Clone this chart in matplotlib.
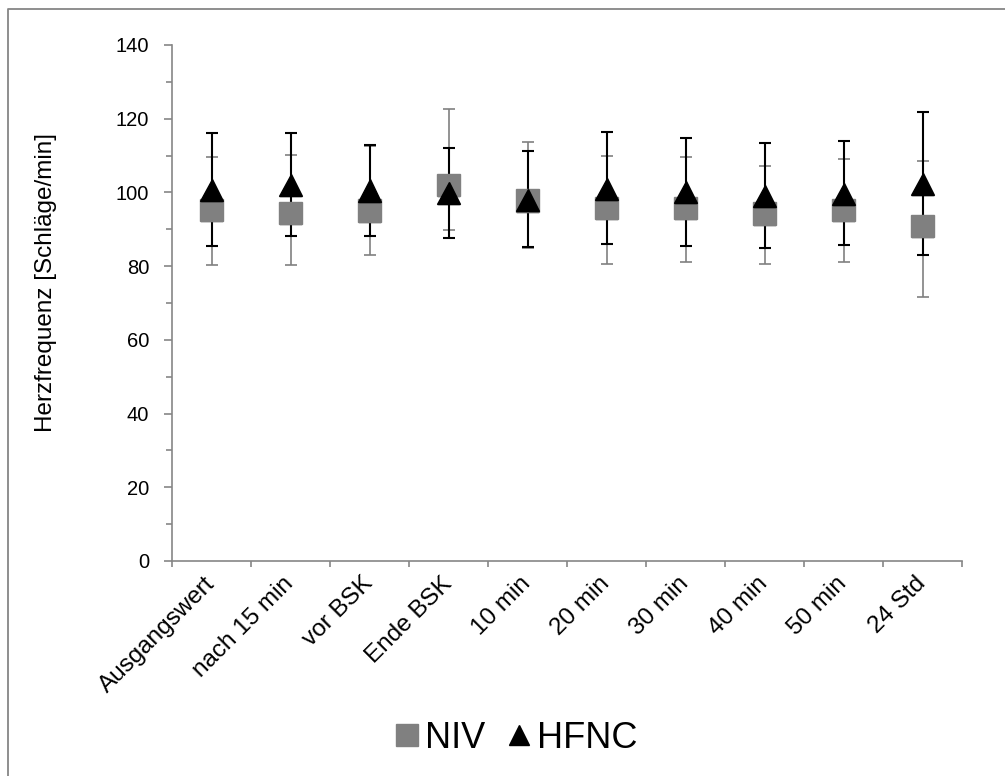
import matplotlib
matplotlib.use("Agg")
import matplotlib.pyplot as plt
import matplotlib.patheffects as pe
from matplotlib.lines import Line2D
import numpy as np

plt.rcParams['font.family'] = ['Liberation Sans', 'DejaVu Sans']

# Messzeitpunkte
zeitpunkte = ["Ausgangswert", "nach 15 min", "vor BSK", "Ende BSK", "10 min",
              "20 min", "30 min", "40 min", "50 min", "24 Std"]

# NIV: Mittelwert, untere / obere Fehlerbalken-Enden
niv_mw = [95.2, 94.4, 95.1, 102.0, 97.8, 95.7, 95.7, 94.3, 95.3, 90.9]
niv_unten = [80.2, 80.2, 83.1, 89.9, 85.0, 80.7, 81.2, 80.5, 81.1, 71.6]
niv_oben = [109.7, 110.1, 112.6, 122.7, 113.7, 109.8, 109.7, 107.1, 109.1, 108.6]

# HFNC
hfnc_mw = [100.7, 102.1, 100.5, 99.8, 97.9, 101.0, 100.1, 99.0, 99.5, 102.3]
hfnc_unten = [85.6, 88.2, 88.3, 87.6, 85.2, 85.9, 85.6, 84.9, 85.7, 83.1]
hfnc_oben = [116.0, 116.2, 112.8, 112.0, 111.2, 116.4, 114.9, 113.5, 114.0, 121.8]

grau = '#808080'
achse = '#868686'

x = np.arange(len(zeitpunkte))

fig = plt.figure(figsize=(10.05, 7.76), dpi=100)
ax = fig.add_axes([172/1005, 1-561/776, 790/1005, 516/776])

err_niv = [np.array(niv_mw)-np.array(niv_unten), np.array(niv_oben)-np.array(niv_mw)]
err_hfnc = [np.array(hfnc_mw)-np.array(hfnc_unten), np.array(hfnc_oben)-np.array(hfnc_mw)]

ax.errorbar(x, niv_mw, yerr=err_niv, fmt='none', ecolor=grau, elinewidth=1.2,
            capsize=4.3, capthick=1.2, zorder=2)
ax.errorbar(x, hfnc_mw, yerr=err_hfnc, fmt='none', ecolor='black', elinewidth=1.5,
            capsize=4.3, capthick=1.5, zorder=3)

schatten = [pe.SimplePatchShadow(offset=(0.5, -1.5), alpha=0.15), pe.Normal()]
ax.plot(x, niv_mw, ls='none', marker='s', ms=16, color=grau, zorder=4, path_effects=schatten)
ax.plot(x, hfnc_mw, ls='none', marker='^', ms=16, color='black', zorder=5, path_effects=schatten)

ax.set_xlim(-0.5, 9.5)
ax.set_ylim(0, 140)

for s in ['top', 'right']:
    ax.spines[s].set_visible(False)
for s in ['left', 'bottom']:
    ax.spines[s].set_color(achse)
    ax.spines[s].set_linewidth(1.2)

ax.set_yticks(range(0, 141, 20))
ax.set_yticks(range(10, 140, 20), minor=True)
ax.tick_params(axis='y', which='major', direction='out', length=5.5, width=1.2,
               color=achse, labelsize=14.5, pad=11)
ax.tick_params(axis='y', which='minor', direction='out', length=4.5, width=1.2, color=achse)

ax.set_xticks(x)
ax.set_xticklabels(zeitpunkte, rotation=45, ha='right', va='center',
                   rotation_mode='anchor', fontsize=17.5)
ax.tick_params(axis='x', which='major', length=0, pad=14)
ax.set_xticks(np.arange(-0.5, 10, 1), minor=True)
ax.tick_params(axis='x', which='minor', direction='out', length=4.5, width=1.2, color=achse)

ax.set_ylabel('Herzfrequenz [Schläge/min]', fontsize=17.5)
ax.yaxis.set_label_coords(-0.145, 0.54)

handles = [Line2D([], [], ls='none', marker='s', ms=16, color=grau, label='NIV'),
           Line2D([], [], ls='none', marker='^', ms=15, color='black', label='HFNC')]
fig.legend(handles=handles, loc='center', bbox_to_anchor=(516/1005, 1-738/776), ncol=2,
           frameon=False, fontsize=26, handlelength=0.7, handletextpad=0.15,
           columnspacing=0.6, borderpad=0)

# Rahmen (nur links und oben sichtbar)
fig.add_artist(Line2D([8/1005, 8/1005, 1], [0, 1-9/776, 1-9/776],
                      transform=fig.transFigure, color=achse, lw=1.3))

fig.savefig('out.png', dpi=100)
